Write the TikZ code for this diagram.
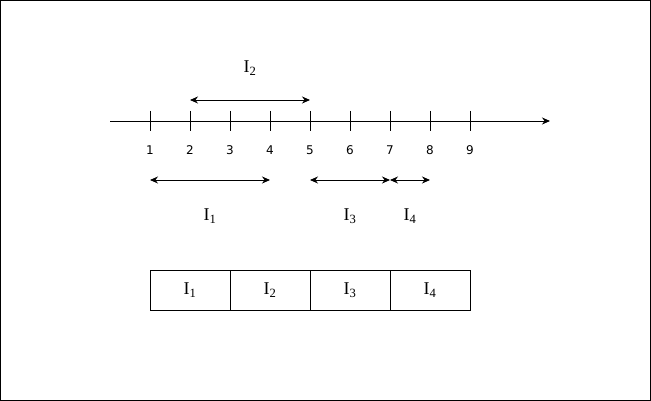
\documentclass[tikz,border=0pt]{standalone}
\usepackage{fontspec}
\setmainfont{DejaVu Sans}
\newfontfamily\labelfont{Liberation Serif}
\usetikzlibrary{
  positioning,
  calc,
  arrows.meta
}
\newcommand{\ivl}[1]{I\textsubscript{#1}}

\begin{document}
\begin{tikzpicture}[
      x=1pt, y=-1pt,
      axis/.style={-{Stealth[length=8pt,width=7pt]}, line width=0.9pt},
      interval/.style={{Stealth[length=8pt,width=7pt]}-{Stealth[length=8pt,width=7pt]}, line width=0.9pt},
      tick/.style={line width=0.9pt},
      num/.style={font=\fontsize{12}{14}\selectfont, inner sep=1pt},
      ilabel/.style={font=\labelfont\fontsize{18}{20}\selectfont, inner sep=1pt},
      slot/.style={rectangle, draw, line width=0.9pt, minimum width=80pt, minimum height=40pt, outer sep=0pt, inner sep=0pt, font=\labelfont\fontsize{18}{20}\selectfont}
    ]
      \useasboundingbox (0,0) rectangle (651,401);
      \draw[line width=0.9pt] (0.5,0.5) rectangle (650.5,400.5);

      % Number line
      \coordinate (start) at (110,121);
      \coordinate (end) at (550,121);
      \draw[axis] (start) -- (end);
      \foreach \i in {1,...,9} {
        \coordinate (t\i) at (110+40*\i,121);
        \draw[tick] ($(t\i)+(0,-10)$) -- ($(t\i)+(0,10)$);
        \node[num] (n\i) at (110+40*\i,150) {\i};
      }

      % Rows for the intervals
      \coordinate (up) at (0,100);
      \coordinate (low) at (0,180);

      % Intervals
      \draw[interval] (t2 |- up) -- (t5 |- up);
      \draw[interval] (t1 |- low) -- (t4 |- low);
      \draw[interval] (t5 |- low) -- (t7 |- low);
      \draw[interval] (t7 |- low) -- (t8 |- low);

      % Labels
      \node[ilabel] (i2) at (250,68) {\ivl{2}};
      \node[ilabel] (i1) at (210,216) {\ivl{1}};
      \node[ilabel] (i3) at (350,216) {\ivl{3}};
      \node[ilabel] (i4) at (410,216) {\ivl{4}};

      % Schedule
      \node[slot] (b1) at (190,290) {\ivl{1}};
      \node[slot, right=0pt of b1] (b2) {\ivl{2}};
      \node[slot, right=0pt of b2] (b3) {\ivl{3}};
      \node[slot, right=0pt of b3] (b4) {\ivl{4}};
    \end{tikzpicture}
\end{document}
